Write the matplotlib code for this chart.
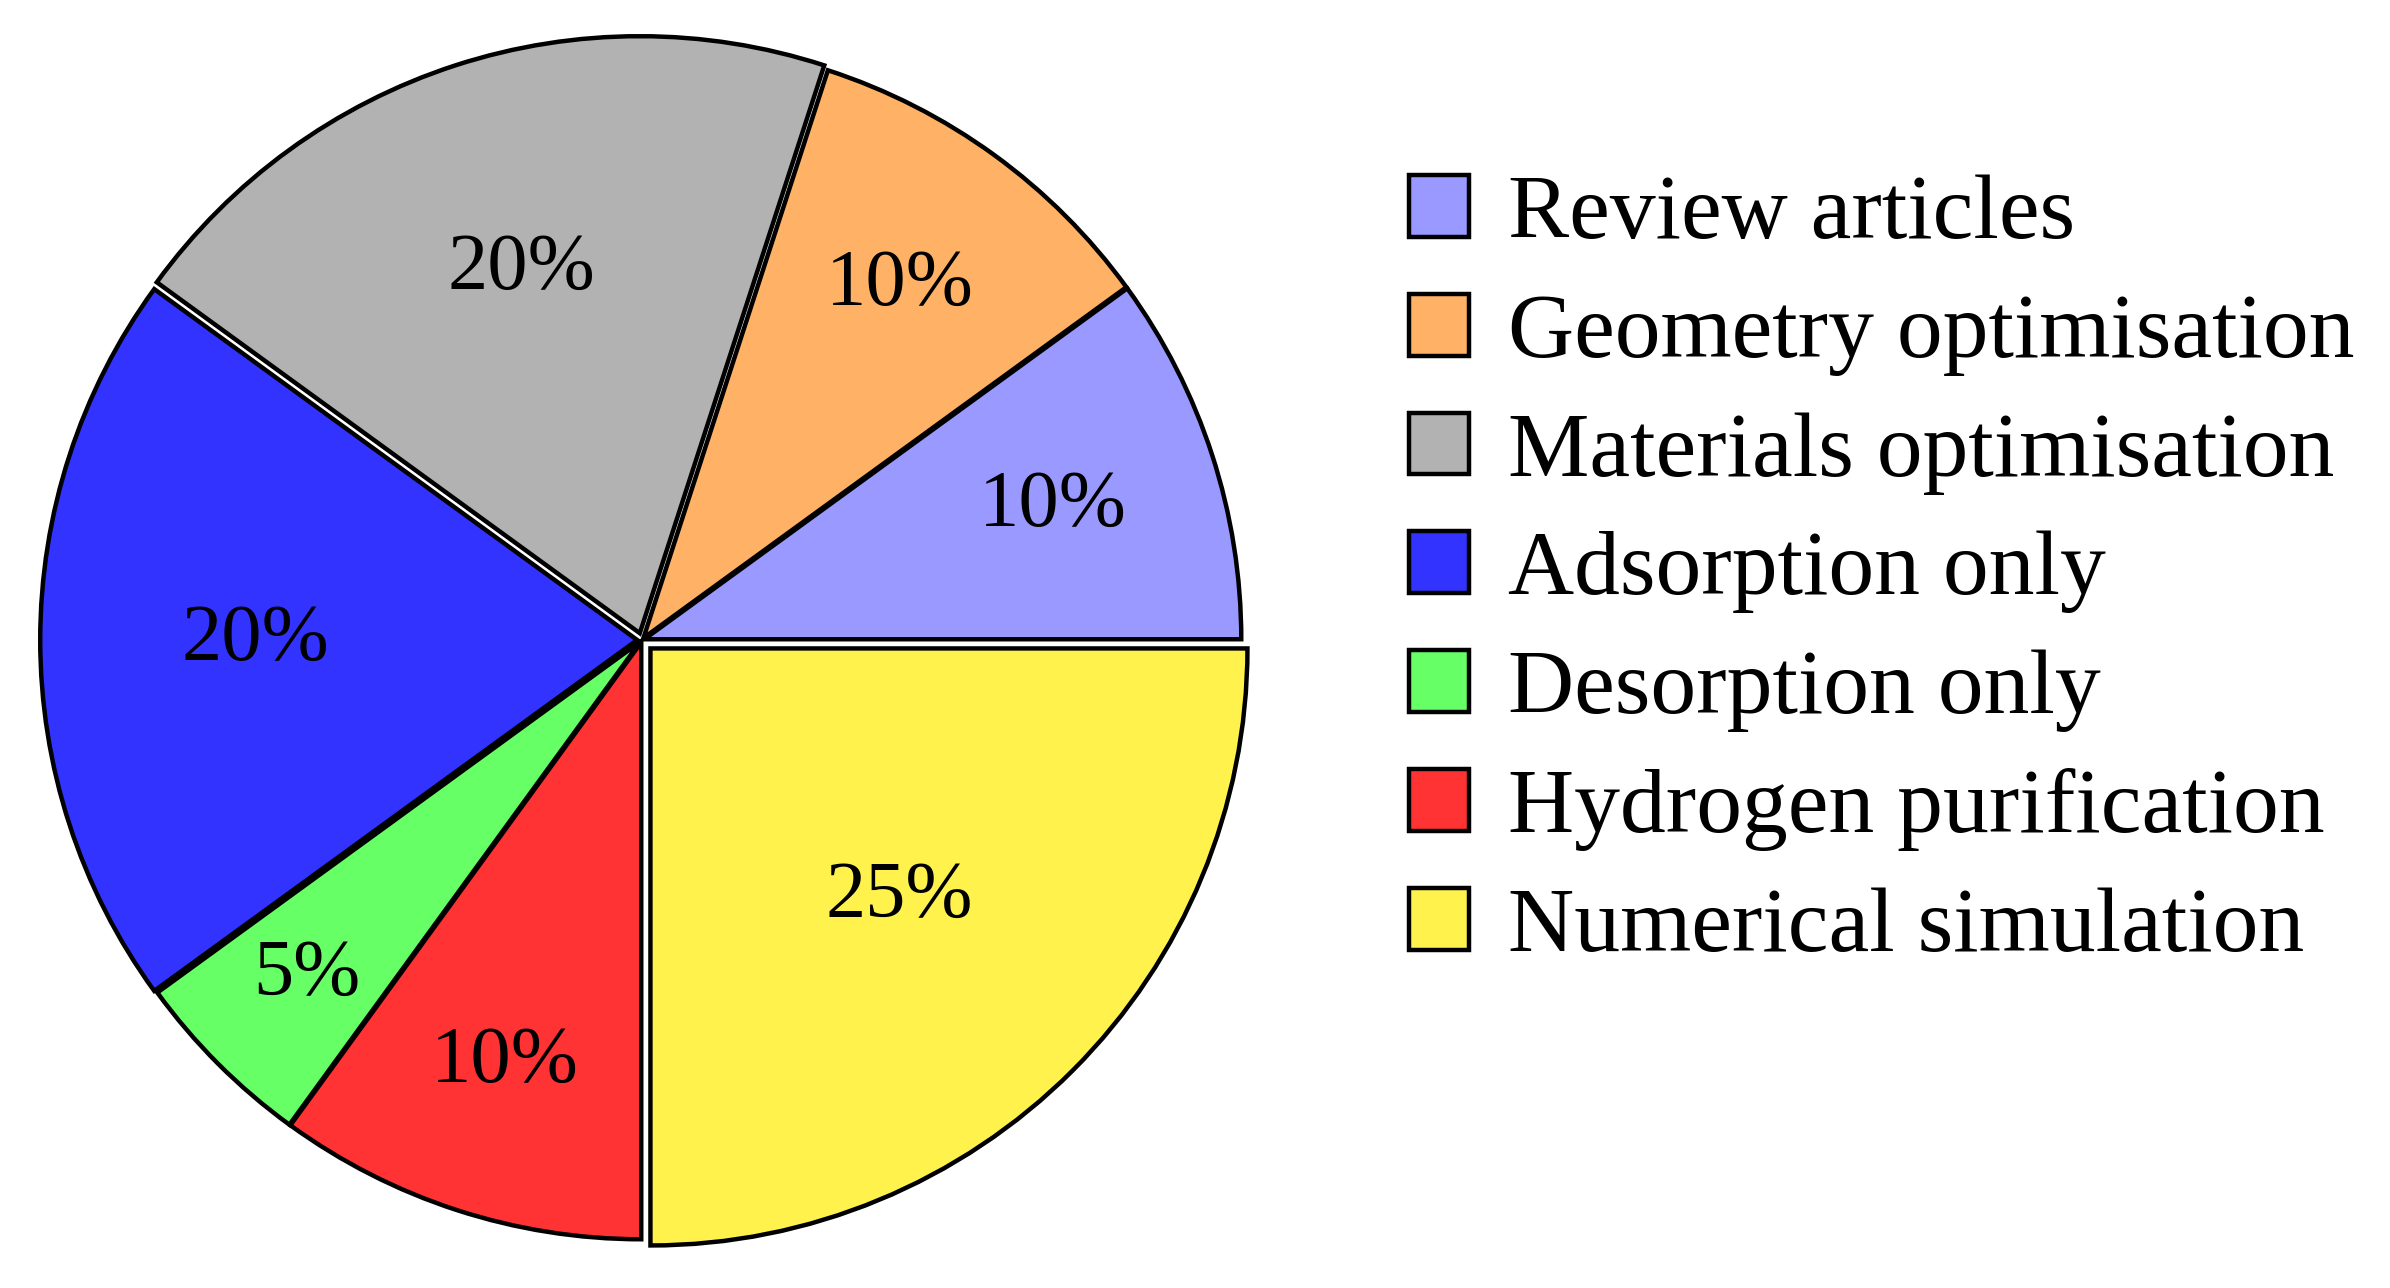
import numpy as np
from matplotlib import pyplot as plt

categorias = ['Review articles', 'Geometry optimisation', 'Materials optimisation',
              'Adsorption only', 'Desorption only', 'Hydrogen purification',
              'Numerical simulation']
porcentajes = [10, 10, 20, 20, 5, 10, 25]
colores = ['#9999FF', '#FFB266', '#B2B2B2', '#3333FF', '#66FF66', '#FF3333', '#FFF24D']
separacion = [0.004, 0.004, 0.012, 0.008, 0.004, 0.004, 0.02]
# distancia radial de cada etiqueta (fraccion del radio)
dist_etiqueta = [0.72, 0.73, 0.64, 0.64, 0.79, 0.74, 0.59]

plt.rcParams['font.family'] = ['Liberation Serif', 'DejaVu Serif']

fig = plt.figure(figsize=(23.9, 12.88), dpi=100)
W, H = 2390, 1288
R = 597  # radio en pixeles
cx, cy = 642, 640
lim = 1.04
ax = fig.add_axes([(cx - R * lim) / W, (H - cy - R * lim) / H, 2 * R * lim / W, 2 * R * lim / H])

wedges, textos, autotextos = ax.pie(
    porcentajes, colors=colores, explode=separacion, startangle=0, counterclock=True,
    autopct='%d%%', pctdistance=0.7,
    wedgeprops=dict(edgecolor='black', linewidth=3.2),
    textprops=dict(fontsize=58, color='black'))

# mover cada etiqueta a su distancia
for w, t, d in zip(wedges, autotextos, dist_etiqueta):
    ang = np.deg2rad((w.theta1 + w.theta2) / 2)
    x0, y0 = w.center
    t.set_position((x0 + d * np.cos(ang), y0 + d * np.sin(ang)))

ax.set_xlim(-lim, lim)
ax.set_ylim(-lim, lim)
ax.set_aspect('equal')
ax.axis('off')

fig.legend(wedges, categorias, loc='upper left', bbox_to_anchor=(1372 / W, 1 - 138 / H),
           frameon=False, fontsize=66, handlelength=0.66, handleheight=0.66,
           handletextpad=0.42, labelspacing=0.395, borderaxespad=0)

fig.savefig('out.png', dpi=100)
